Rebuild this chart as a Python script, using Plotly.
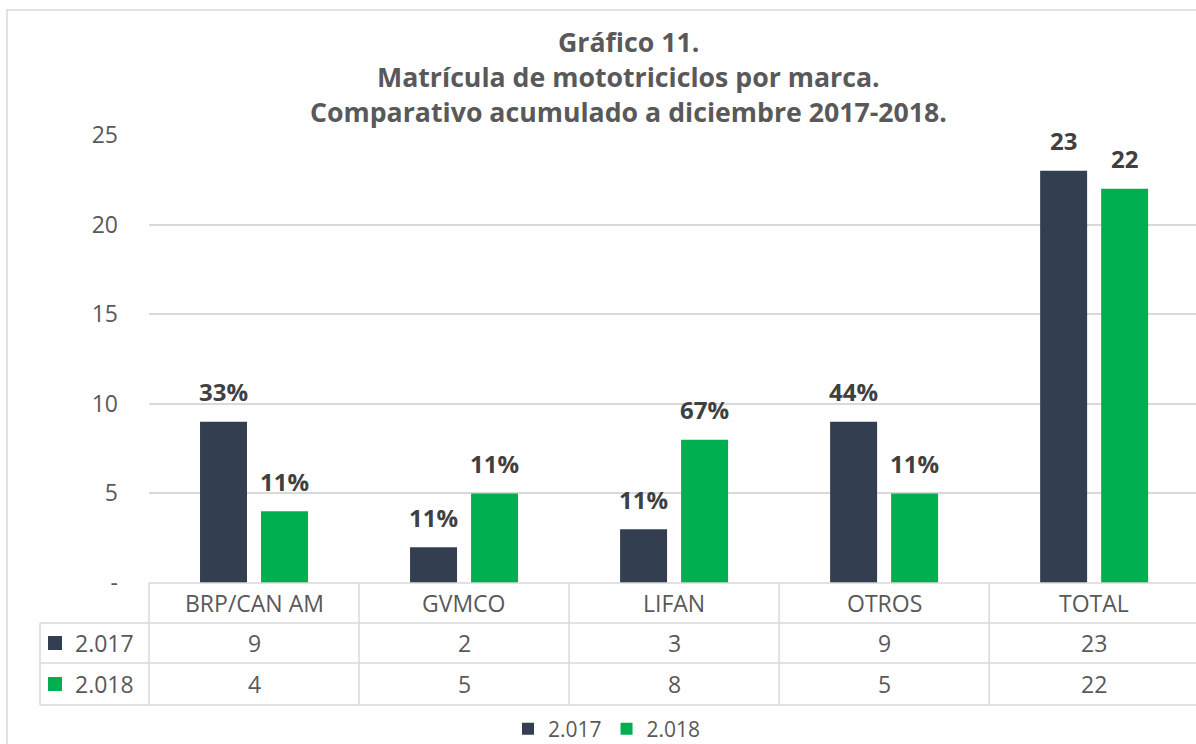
import plotly.graph_objects as go

categories = ["BRP/CAN AM", "GVMCO", "LIFAN", "OTROS", "TOTAL"]
series_names = ["2.017", "2.018"]
values_2017 = [9, 2, 3, 9, 23]
values_2018 = [4, 5, 8, 5, 22]
labels_2017 = ["33%", "11%", "11%", "44%", "23"]
labels_2018 = ["11%", "11%", "67%", "11%", "22"]
y_tickvals = [0, 5, 10, 15, 20, 25]
y_ticktext = ["-", "5", "10", "15", "20", "25"]

C17 = "#333F50"
C18 = "#00B050"
TXT = "#595959"
LBL = "#404040"
GRID = "#D9D9D9"
FONT = "Open Sans"

W_IMG, H_IMG = 1196, 744
L, R, T, B = 149, 1196, 135, 583
PW, PH = R - L, B - T
XMAX = 4.485

def px_x(x):
    return (x - L) / PW

def px_y(y):
    return (B - y) / PH

fig = go.Figure()
fig.add_trace(go.Bar(x=categories, y=values_2017, name=series_names[0],
                     marker=dict(color=C17, line=dict(width=0))))
fig.add_trace(go.Bar(x=categories, y=values_2018, name=series_names[1],
                     marker=dict(color=C18, line=dict(width=0))))

shapes = []
annotations = []

# data labels
bar_off = 30.5
for vals, labs, sh in [(values_2017, labels_2017, -bar_off), (values_2018, labels_2018, bar_off)]:
    for c, v, t in zip(categories, vals, labs):
        annotations.append(dict(x=c, y=v, xref="x", yref="y", text=f"<b>{t}</b>",
                                showarrow=False, xshift=sh, yshift=30, yanchor="middle",
                                font=dict(family=FONT, size=24, color=LBL)))

# data table
row_lines = [623, 663, 705]
n = len(categories)
def bpaper(b):
    return (b + 0.5) / (XMAX + 0.5)

line = dict(color=GRID, width=1.5)
shapes.append(dict(type="line", xref="paper", yref="paper", x0=0, x1=1.02,
                   y0=px_y(583), y1=px_y(583), line=line))
for yy in row_lines:
    shapes.append(dict(type="line", xref="paper", yref="paper", x0=px_x(40), x1=1.02,
                       y0=px_y(yy), y1=px_y(yy), line=line))
shapes.append(dict(type="line", xref="paper", yref="paper", x0=px_x(40), x1=px_x(40),
                   y0=px_y(623), y1=px_y(705), line=line))
for k in range(n + 1):
    xb = bpaper(k - 0.5)
    shapes.append(dict(type="line", xref="paper", yref="paper", x0=xb, x1=xb,
                       y0=px_y(583), y1=px_y(705), line=line))

for c in categories:
    annotations.append(dict(x=c, y=px_y(603), xref="x", yref="paper", text=c,
                            showarrow=False, yanchor="middle",
                            font=dict(family=FONT, size=23, color=TXT)))
for vals, yy in [(values_2017, 643), (values_2018, 684)]:
    for c, v in zip(categories, vals):
        annotations.append(dict(x=c, y=px_y(yy), xref="x", yref="paper", text=str(v),
                                showarrow=False, yanchor="middle",
                                font=dict(family=FONT, size=23, color=TXT)))
for name, col, yy in [(series_names[0], C17, 643), (series_names[1], C18, 684)]:
    shapes.append(dict(type="rect", xref="paper", yref="paper",
                       x0=px_x(48), x1=px_x(62), y0=px_y(yy - 7), y1=px_y(yy + 7),
                       fillcolor=col, line=dict(width=0)))
    annotations.append(dict(x=px_x(73), y=px_y(yy), xref="paper", yref="paper", text=name,
                            showarrow=False, xanchor="left", yanchor="middle",
                            font=dict(family=FONT, size=23, color=TXT)))

# outer border
shapes.append(dict(type="rect", xref="paper", yref="paper",
                   x0=px_x(7), x1=1.05, y0=px_y(10), y1=px_y(760),
                   line=dict(color=GRID, width=1.5), fillcolor="rgba(0,0,0,0)", layer="below"))

# title lines
title_lines = ["Gráfico 11.", "Matrícula de mototriciclos por marca.",
               "Comparativo acumulado a diciembre 2017-2018."]
for t, yy in zip(title_lines, [42, 77, 112]):
    annotations.append(dict(x=px_x(628), y=px_y(yy), xref="paper", yref="paper",
                            text=f"<b>{t}</b>", showarrow=False, xanchor="center",
                            yanchor="middle", font=dict(family=FONT, size=26.7, color=TXT)))

fig.update_layout(
    width=W_IMG, height=H_IMG,
    margin=dict(l=L, r=W_IMG - R, t=T, b=H_IMG - B, pad=0, autoexpand=False),
    paper_bgcolor="white", plot_bgcolor="white",
    barmode="group", bargap=0.419, bargroupgap=0.23,
    xaxis=dict(range=[-0.5, XMAX], showticklabels=False, showgrid=False, zeroline=False,
               showline=False, fixedrange=True),
    yaxis=dict(range=[0, 25], tickvals=y_tickvals, ticktext=y_ticktext,
               showgrid=True, gridcolor=GRID, gridwidth=1.5, zeroline=False, showline=False,
               ticks="", ticklabelstandoff=30, automargin=False,
               tickfont=dict(family=FONT, size=23, color=TXT)),
    showlegend=True,
    legend=dict(orientation="h", x=607 / W_IMG, xref="container", xanchor="center",
                y=1 - 729 / H_IMG, yref="container", yanchor="middle",
                font=dict(family=FONT, size=21, color=TXT), traceorder="normal",
                itemwidth=30, bgcolor="rgba(0,0,0,0)"),
    shapes=shapes,
    annotations=annotations,
)

fig.write_html("out.html", config={"displayModeBar": False},
               post_script="document.body.style.margin='0';")
